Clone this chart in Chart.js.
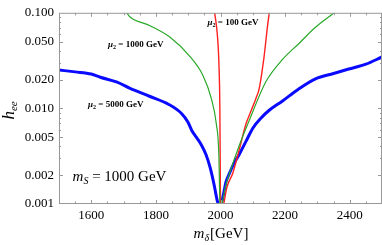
<!DOCTYPE html>
<html>
<head>
<meta charset="utf-8">
<script src="https://cdn.jsdelivr.net/npm/chart.js@4"></script>
<style>
  body { margin: 0; background: #fff; }
  #wrap { width: 382px; height: 245px; }
</style>
</head>
<body>
<div id="wrap"><canvas id="chart" width="382" height="245"></canvas></div>
<script>
// axis ticks
const xTicks = [1600, 1800, 2000, 2200, 2400];
const yTicks = [0.001, 0.002, 0.005, 0.01, 0.02, 0.05, 0.1];

// mu2 = 5000 GeV (blue), two branches either side of m_delta = 2 m_S
const blueLeftX = [1500, 1550, 1600, 1628, 1680, 1720, 1780, 1840, 1880, 1899, 1912, 1925, 1940, 1955, 1968, 1980, 1989, 1993];
const blueLeftY = [0.0252, 0.0241, 0.0229, 0.0212, 0.0188, 0.0162, 0.0134, 0.011, 0.0088, 0.0072, 0.0058, 0.005, 0.0042, 0.0033, 0.0024, 0.0016, 0.00112, 0.001];
const blueRightX = [2003, 2010, 2017, 2028, 2040, 2058, 2080, 2100, 2125, 2150, 2191, 2240, 2294, 2350, 2397, 2450, 2500];
const blueRightY = [0.001, 0.0013, 0.0017, 0.0021, 0.0026, 0.0033, 0.0046, 0.0062, 0.0079, 0.0095, 0.0119, 0.0158, 0.0204, 0.0232, 0.0258, 0.029, 0.0345];

// mu2 = 1000 GeV (green)
const greenLeftX = [1710, 1720, 1782, 1843, 1905, 1946, 1971, 1987, 1995, 1998];
const greenLeftY = [0.1, 0.0905, 0.0733, 0.0558, 0.035, 0.022, 0.0129, 0.0069, 0.0032, 0.001];
const greenRightX = [2005, 2015, 2028, 2058, 2089, 2140, 2192, 2243, 2294, 2340, 2352];
const greenRightY = [0.001, 0.0015, 0.0021, 0.0041, 0.0075, 0.0189, 0.0325, 0.0478, 0.0705, 0.093, 0.1];

// mu2 = 100 GeV (red)
const redLeftX = [1982, 1990, 1995, 1998, 1999, 2000];
const redLeftY = [0.1, 0.06, 0.03, 0.01, 0.003, 0.001];
const redRightX = [2010, 2020, 2038, 2058, 2079, 2095, 2110, 2120, 2135, 2145, 2151];
const redRightY = [0.001, 0.0015, 0.0021, 0.0037, 0.0069, 0.0095, 0.0128, 0.0162, 0.035, 0.07, 0.1];

function pts(xs, ys) {
    return xs.map((x, i) => ({ x: x, y: ys[i] }));
}

function curve(xs, ys, color, width) {
    return {
        data: pts(xs, ys),
        borderColor: color,
        borderWidth: width,
        pointRadius: 0,
        cubicInterpolationMode: 'monotone',
        fill: false
    };
}

const serif = "'Liberation Serif', 'DejaVu Serif', serif";

// frame, inward ticks, axis titles and curve labels
const framePlugin = {
    id: 'frame',
    afterDraw(chart) {
        const c = chart.ctx;
        const a = chart.chartArea;
        const xs = chart.scales.x, ys = chart.scales.y;
        c.save();
        c.strokeStyle = '#999';
        c.lineWidth = 1;
        c.strokeRect(a.left + 0.5, a.top + 0.5, a.right - a.left - 1, a.bottom - a.top - 1);

        // x ticks every 50, major at labelled values
        for (let v = 1550; v < 2500; v += 50) {
            const px = Math.round(xs.getPixelForValue(v)) + 0.5;
            const len = (v % 200 === 0) ? 4 : 2.5;
            c.beginPath();
            c.moveTo(px, a.bottom); c.lineTo(px, a.bottom - len);
            c.moveTo(px, a.top); c.lineTo(px, a.top + len);
            c.stroke();
        }
        // y log ticks
        for (let d = -3; d < -1; d++) {
            for (let m = 1; m <= 9; m++) {
                const v = m * Math.pow(10, d);
                if (v <= 0.001 || v >= 0.1) continue;
                const py = Math.round(ys.getPixelForValue(v)) + 0.5;
                const len = (m === 1 || m === 2 || m === 5) ? 4 : 2;
                c.beginPath();
                c.moveTo(a.left, py); c.lineTo(a.left + len, py);
                c.moveTo(a.right, py); c.lineTo(a.right - len, py);
                c.stroke();
            }
        }

        c.fillStyle = '#000';
        // x axis title m_δ[GeV]
        c.textBaseline = 'alphabetic';
        c.font = 'italic 15px ' + serif;
        const mW = c.measureText('m').width;
        c.font = 'italic 10px ' + serif;
        const dW = c.measureText('δ').width;
        c.font = '15px ' + serif;
        const gW = c.measureText('[GeV]').width;
        let tx = (a.left + a.right) / 2 - (mW + dW + gW) / 2;
        const ty = 238;
        c.font = 'italic 15px ' + serif;
        c.fillText('m', tx, ty);
        c.font = 'italic 10px ' + serif;
        c.fillText('δ', tx + mW, ty + 3);
        c.font = '15px ' + serif;
        c.fillText('[GeV]', tx + mW + dW + 1, ty);

        // y axis title h_ee
        c.save();
        c.translate(14, (a.top + a.bottom) / 2 + 2);
        c.rotate(-Math.PI / 2);
        c.font = 'italic 17px ' + serif;
        const hW = c.measureText('h').width;
        c.font = 'italic 11px ' + serif;
        const eW = c.measureText('ee').width;
        let hx = -(hW + eW) / 2;
        c.font = 'italic 17px ' + serif;
        c.fillText('h', hx, 0);
        c.font = 'italic 11px ' + serif;
        c.fillText('ee', hx + hW, 3);
        c.restore();

        // curve labels
        function muLabel(text, px, py) {
            c.font = 'bold italic 9px ' + serif;
            c.fillText('μ', px, py);
            let w = c.measureText('μ').width;
            c.font = 'bold 6px ' + serif;
            c.fillText('2', px + w, py + 2);
            w += c.measureText('2').width;
            c.font = 'bold 9px ' + serif;
            c.fillText(' = ' + text, px + w, py);
        }
        muLabel('1000 GeV', xs.getPixelForValue(1652), ys.getPixelForValue(0.0443));
        muLabel('100 GeV', xs.getPixelForValue(1960), ys.getPixelForValue(0.074));
        muLabel('5000 GeV', xs.getPixelForValue(1590), ys.getPixelForValue(0.0104));

        // m_S = 1000 GeV
        let sx = xs.getPixelForValue(1542), sy = ys.getPixelForValue(0.00175);
        c.font = 'italic 15px ' + serif;
        c.fillText('m', sx, sy);
        let w = c.measureText('m').width;
        c.font = 'italic 10px ' + serif;
        c.fillText('S', sx + w, sy + 3);
        w += c.measureText('S').width;
        c.font = '15px ' + serif;
        c.fillText(' = 1000 GeV', sx + w, sy);
        c.restore();
    }
};

new Chart(document.getElementById('chart'), {
    type: 'line',
    data: {
        datasets: [
            curve(greenLeftX, greenLeftY, '#2aa82a', 1.2),
            curve(greenRightX, greenRightY, '#2aa82a', 1.2),
            curve(redLeftX, redLeftY, '#ff2020', 1.4),
            curve(redRightX, redRightY, '#ff2020', 1.4),
            curve(blueLeftX, blueLeftY, '#0a0aff', 3),
            curve(blueRightX, blueRightY, '#0a0aff', 3)
        ]
    },
    options: {
        responsive: false,
        animation: false,
        layout: { padding: { top: 5, right: 0, left: 0, bottom: 0 } },
        plugins: { legend: { display: false }, tooltip: { enabled: false } },
        scales: {
            x: {
                type: 'linear',
                min: 1500,
                max: 2500,
                afterBuildTicks: s => { s.ticks = xTicks.map(v => ({ value: v })); },
                afterFit: s => { s.height = 41; },
                ticks: {
                    color: '#000',
                    font: { family: serif, size: 13 },
                    padding: 4,
                    maxRotation: 0,
                    callback: v => String(v)
                },
                grid: { display: false, drawTicks: false, tickLength: 0 },
                border: { display: false }
            },
            y: {
                type: 'logarithmic',
                min: 0.001,
                max: 0.1,
                afterBuildTicks: s => { s.ticks = yTicks.map(v => ({ value: v })); },
                afterFit: s => { s.width = 59; },
                ticks: {
                    color: '#000',
                    font: { family: serif, size: 13 },
                    padding: 5,
                    callback: v => Number(v).toFixed(3)
                },
                grid: { display: false, drawTicks: false, tickLength: 0 },
                border: { display: false }
            }
        }
    },
    plugins: [framePlugin]
});
</script>
</body>
</html>
